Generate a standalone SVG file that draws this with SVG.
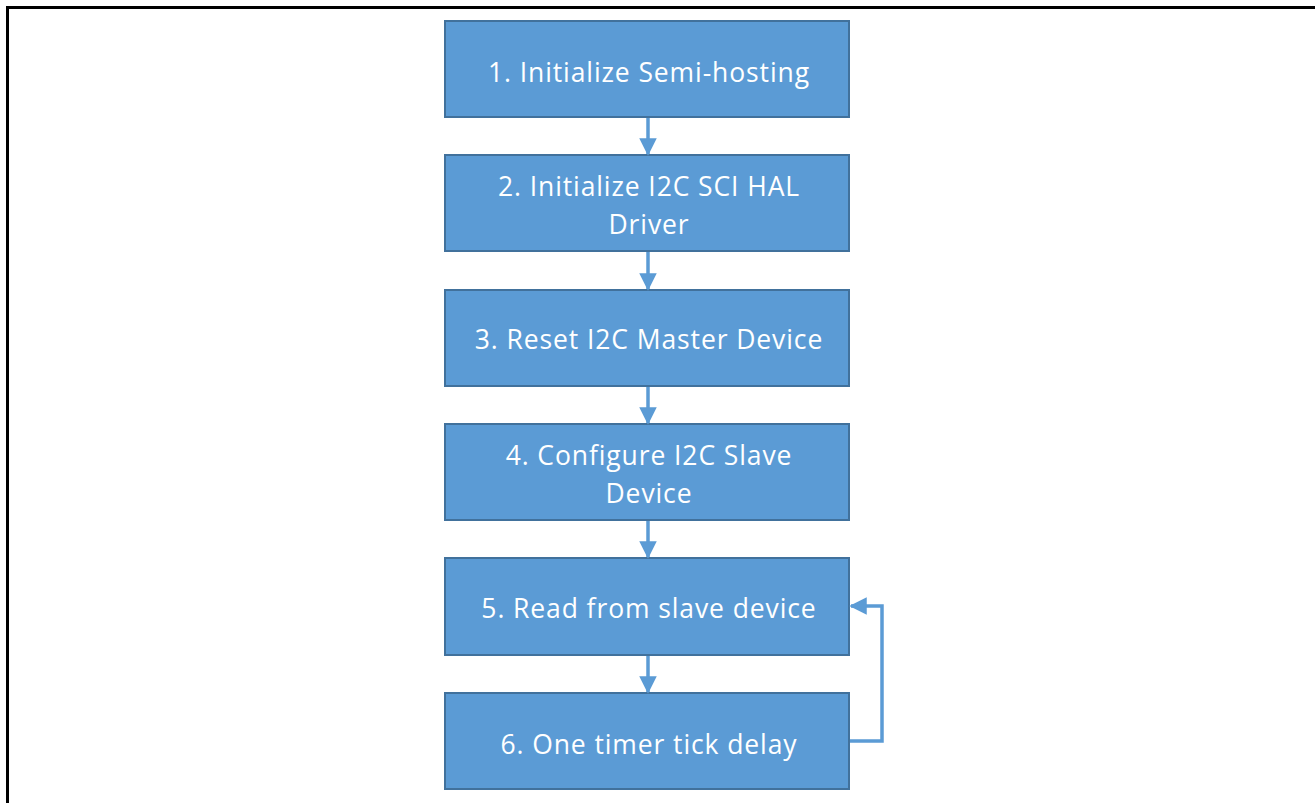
<svg xmlns="http://www.w3.org/2000/svg" width="1315" height="803" viewBox="0 0 1315 803">
<style>
.box{fill:#5B9BD5;stroke:#41719C;stroke-width:2}
.t{font-family:"Open Sans","Liberation Sans",sans-serif;font-size:26.5px;letter-spacing:0.9px;fill:#FFFFFF;text-anchor:middle}
.c{stroke:#5B9BD5;stroke-width:3.5;fill:none}
</style>
<defs>
<marker id="ah" markerWidth="5" markerHeight="5" refX="4.5" refY="2.5" orient="auto" markerUnits="strokeWidth" viewBox="0 0 5 5">
<path d="M0,0 L5,2.5 L0,5 z" fill="#5B9BD5"/>
</marker>
</defs>
<rect x="0" y="0" width="1315" height="803" fill="#FFFFFF"/>
<path d="M7.5,803 V7.5 H1315" fill="none" stroke="#000000" stroke-width="3"/>
<g id="n1"><rect class="box" x="445" y="21" width="404" height="96"/><text class="t" x="649" y="82">1. Initialize Semi-hosting</text></g>
<g id="n2"><rect class="box" x="445" y="155" width="404" height="96"/><text class="t" x="649" y="196">2. Initialize I2C SCI HAL</text><text class="t" x="649" y="234">Driver</text></g>
<g id="n3"><rect class="box" x="445" y="290" width="404" height="96"/><text class="t" x="649" y="349">3. Reset I2C Master Device</text></g>
<g id="n4"><rect class="box" x="445" y="424" width="404" height="96"/><text class="t" x="649" y="465">4. Configure I2C Slave</text><text class="t" x="649" y="503">Device</text></g>
<g id="n5"><rect class="box" x="445" y="558" width="404" height="97"/><text class="t" x="649" y="618">5. Read from slave device</text></g>
<g id="n6"><rect class="box" x="445" y="693" width="404" height="96"/><text class="t" x="649" y="754">6. One timer tick delay</text></g>
<g id="connectors">
<line class="c" x1="648" y1="118" x2="648" y2="154" marker-end="url(#ah)"/>
<line class="c" x1="648" y1="252" x2="648" y2="289" marker-end="url(#ah)"/>
<line class="c" x1="648" y1="387" x2="648" y2="423" marker-end="url(#ah)"/>
<line class="c" x1="648" y1="521" x2="648" y2="557" marker-end="url(#ah)"/>
<line class="c" x1="648" y1="656" x2="648" y2="692" marker-end="url(#ah)"/>
<polyline class="c" points="850,741 882,741 882,606 851,606" marker-end="url(#ah)"/>
</g>
</svg>
